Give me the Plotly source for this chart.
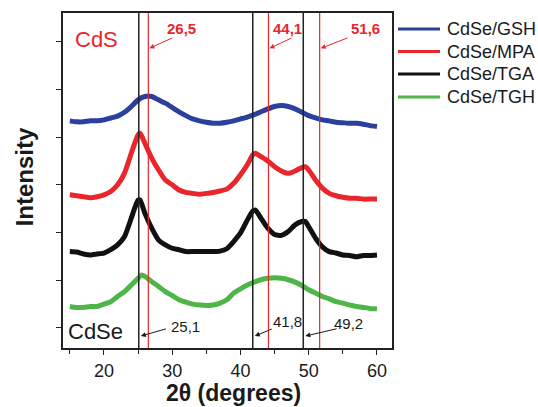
import plotly.graph_objects as go

# 2-theta sample points (degrees) and stacked intensities (a.u., offset per sample)
gsh_x = list(range(15, 61))
gsh_y = [5.34, 5.32, 5.32, 5.34, 5.34, 5.36, 5.40, 5.44, 5.52, 5.64, 5.78, 5.85, 5.85,
         5.78, 5.71, 5.62, 5.53, 5.45, 5.38, 5.34, 5.31, 5.29, 5.29, 5.31, 5.34, 5.38,
         5.42, 5.47, 5.53, 5.59, 5.64, 5.66, 5.64, 5.59, 5.52, 5.45, 5.40, 5.36, 5.34,
         5.31, 5.30, 5.29, 5.29, 5.27, 5.24, 5.22]

mpa_x = [15, 16, 17, 18, 19, 20, 21, 22, 23, 24, 24.5, 25, 25.3, 26, 27, 28, 29, 30, 31,
         32, 33, 34, 35, 36, 37, 38, 39, 40, 41, 41.8, 42.2, 43, 44, 45, 46, 47, 48, 49,
         49.5, 50, 51, 52, 53, 54, 55, 56, 57, 58, 59, 60]
mpa_y = [3.79, 3.77, 3.75, 3.73, 3.75, 3.79, 3.86, 4.00, 4.24, 4.66, 4.87, 5.05, 5.08,
         4.87, 4.56, 4.31, 4.10, 4.00, 3.89, 3.84, 3.82, 3.80, 3.82, 3.84, 3.87, 3.91,
         4.03, 4.21, 4.42, 4.63, 4.66, 4.59, 4.50, 4.38, 4.29, 4.24, 4.29, 4.36, 4.38,
         4.31, 4.10, 3.93, 3.82, 3.77, 3.74, 3.72, 3.72, 3.70, 3.70, 3.70]

tga_x = [15, 16, 17, 18, 19, 20, 21, 22, 23, 24, 24.5, 25, 25.3, 26, 27, 28, 29, 30, 31,
         32, 33, 34, 35, 36, 37, 38, 39, 40, 41, 41.8, 42.2, 43, 44, 45, 46, 47, 48, 49,
         49.5, 50, 51, 52, 53, 54, 55, 56, 57, 58, 59, 60]
tga_y = [2.60, 2.59, 2.55, 2.53, 2.55, 2.57, 2.64, 2.74, 2.91, 3.30, 3.51, 3.68, 3.68,
         3.40, 3.09, 2.84, 2.74, 2.67, 2.64, 2.60, 2.60, 2.60, 2.60, 2.60, 2.61, 2.66,
         2.81, 2.99, 3.26, 3.45, 3.47, 3.30, 3.09, 2.96, 2.94, 3.02, 3.16, 3.23, 3.23,
         3.12, 2.88, 2.70, 2.60, 2.57, 2.53, 2.52, 2.49, 2.52, 2.52, 2.53]

tgh_x = [15, 16, 17, 18, 19, 20, 21, 22, 23, 24, 25, 25.5, 26, 27, 28, 29, 30, 31, 32,
         33, 34, 35, 36, 37, 38, 39, 40, 41, 42, 43, 44, 45, 46, 47, 48, 49, 50, 51, 52,
         53, 54, 55, 56, 57, 58, 59, 60]
tgh_y = [1.45, 1.43, 1.43, 1.45, 1.45, 1.50, 1.55, 1.66, 1.76, 1.90, 2.04, 2.11, 2.08,
         1.97, 1.87, 1.76, 1.68, 1.59, 1.54, 1.50, 1.48, 1.47, 1.48, 1.52, 1.59, 1.73,
         1.82, 1.90, 1.96, 2.01, 2.04, 2.05, 2.04, 2.01, 1.96, 1.89, 1.80, 1.73, 1.66,
         1.61, 1.55, 1.52, 1.48, 1.45, 1.43, 1.41, 1.40]

series_names = ["CdSe/GSH", "CdSe/MPA", "CdSe/TGA", "CdSe/TGH"]
series_colors = ["#2b3f9e", "#e8262b", "#111111", "#4fb548"]

# Reference reflection positions (degrees)
cds_peaks = [26.5, 44.1, 51.6]
cdse_peaks = [25.1, 41.8, 49.2]

x_ticks = [20, 30, 40, 50, 60]
y_ticks = [1, 2, 3, 4, 5, 6, 7]

FONT = "Arial, Liberation Sans, sans-serif"
RED = "#e8262b"
INK = "#1a1a1a"

fig = go.Figure()
for xs, ys, name, col in zip([gsh_x, mpa_x, tga_x, tgh_x], [gsh_y, mpa_y, tga_y, tgh_y],
                             series_names, series_colors):
    fig.add_trace(go.Scatter(x=xs, y=ys, mode="lines", name=name, showlegend=False,
                             line=dict(color=col, width=5, shape="spline", smoothing=0.5)))

def fmt(v):
    return f"{v:.1f}".replace(".", ",")

shapes = []
annotations = []

# Vertical reference lines
for v in cdse_peaks:
    shapes.append(dict(type="line", xref="x", yref="paper", x0=v, x1=v, y0=0, y1=1,
                       line=dict(color="#222222", width=1.5), layer="above"))
for v in cds_peaks:
    shapes.append(dict(type="line", xref="x", yref="paper", x0=v, x1=v, y0=0, y1=1,
                       line=dict(color=RED, width=1.2), layer="above"))

# CdS labels with arrows (top)
cds_arrow_dx = [3.7, 3.6, 4.3]
cds_label_dx = [4.8, 2.8, 6.7]
for v, adx, ldx in zip(cds_peaks, cds_arrow_dx, cds_label_dx):
    annotations.append(dict(x=v + 0.15, y=6.86, ax=v + adx, ay=7.09, xref="x", yref="y",
                            axref="x", ayref="y", text="", showarrow=True,
                            arrowhead=2, arrowsize=1, arrowwidth=1, arrowcolor=RED))
    annotations.append(dict(x=v + ldx, y=7.28, xref="x", yref="y", text=fmt(v),
                            showarrow=False, xanchor="center", yanchor="middle",
                            font=dict(family=FONT, size=15, color=RED, weight="bold")))

# CdSe labels with arrows (bottom)
cdse_arrow_dx = [4.2, 3.0, 5.1]
cdse_label_dx = [6.9, 5.1, 6.6]
cdse_label_y = [1.04, 1.13, 1.10]
for v, adx, ldx, ly in zip(cdse_peaks, cdse_arrow_dx, cdse_label_dx, cdse_label_y):
    annotations.append(dict(x=v + 0.3, y=0.83, ax=v + adx, ay=0.99, xref="x", yref="y",
                            axref="x", ayref="y", text="", showarrow=True,
                            arrowhead=2, arrowsize=1, arrowwidth=1, arrowcolor=INK))
    annotations.append(dict(x=v + ldx, y=ly, xref="x", yref="y", text=fmt(v),
                            showarrow=False, xanchor="center", yanchor="middle",
                            font=dict(family=FONT, size=15, color=INK)))

annotations.append(dict(x=0.030, y=0.922, xref="paper", yref="paper", text="CdS",
                        showarrow=False, xanchor="left", yanchor="middle",
                        font=dict(family=FONT, size=22, color=RED)))
annotations.append(dict(x=0.008, y=0.048, xref="paper", yref="paper", text="CdSe",
                        showarrow=False, xanchor="left", yanchor="middle",
                        font=dict(family=FONT, size=22, color=INK)))

# Axis titles
annotations.append(dict(x=-0.118, y=0.51, xref="paper", yref="paper", text="Intensity",
                        textangle=-90, showarrow=False, xanchor="center", yanchor="middle",
                        font=dict(family=FONT, size=24, color=INK, weight="bold")))
annotations.append(dict(x=0.517, y=-0.133, xref="paper", yref="paper",
                        text="2θ (degrees)", showarrow=False, xanchor="center",
                        yanchor="middle",
                        font=dict(family=FONT, size=23, color=INK, weight="bold")))

# Legend drawn beside the plot
L, PW, T, PH = 63, 329, 13, 335
legend_rows = [29, 51.5, 74, 97]
for name, col, py in zip(series_names, series_colors, legend_rows):
    yp = (T + PH - py) / PH
    shapes.append(dict(type="line", xref="paper", yref="paper",
                       x0=(398 - L) / PW, x1=(440 - L) / PW, y0=yp, y1=yp,
                       line=dict(color=col, width=3)))
    annotations.append(dict(x=(445 - L) / PW, y=yp, xref="paper", yref="paper",
                            text=name, showarrow=False, xanchor="left", yanchor="middle",
                            font=dict(family=FONT, size=18, color=INK)))

fig.update_layout(
    width=538, height=407,
    margin=dict(l=63, r=146, t=13, b=59),
    paper_bgcolor="white", plot_bgcolor="white",
    shapes=shapes, annotations=annotations,
    font=dict(family=FONT, color=INK),
    xaxis=dict(range=[14, 62.2], tickvals=x_ticks, ticks="outside", ticklen=5,
               tickwidth=1.2, tickcolor="#222222", showgrid=False, zeroline=False,
               showline=True, linecolor="#222222", linewidth=1.8, mirror=True,
               tickfont=dict(family=FONT, size=18, color=INK),
               minor=dict(dtick=5, tick0=15, ticks="outside", ticklen=4, tickwidth=1.2,
                          tickcolor="#222222", showgrid=False)),
    yaxis=dict(range=[0.58, 7.6], tickvals=y_ticks, ticks="outside", ticklen=5,
               tickwidth=1.2, tickcolor="#222222", showticklabels=False, showgrid=False,
               zeroline=False, showline=True, linecolor="#222222", linewidth=1.8,
               mirror=True),
)

fig.write_html("out.html")
